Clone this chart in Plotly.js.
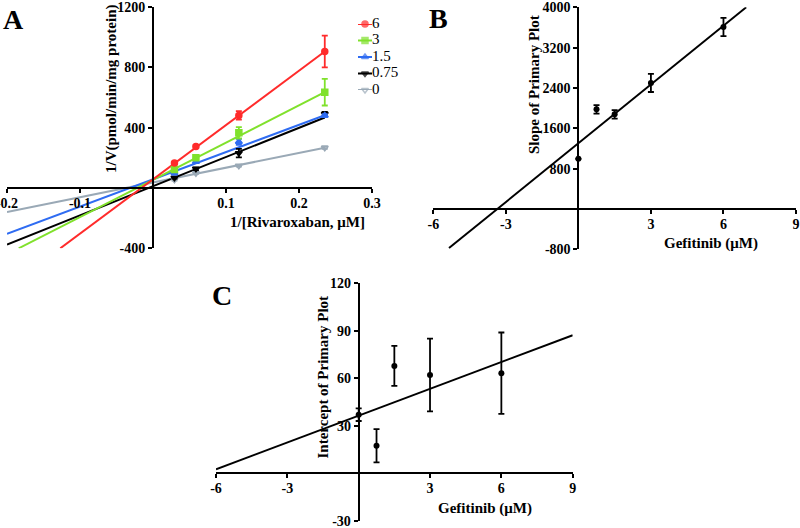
<!DOCTYPE html>
<html><head><meta charset="utf-8">
<script src="https://cdn.plot.ly/plotly-3.0.1.min.js"></script>
<style>html,body{margin:0;padding:0;background:#fff}</style>
</head><body><div id="chart" style="width:800px;height:528px"></div>
<script>
// ---------- DATA ----------
// Panel A: Lineweaver-Burk plot
const aX = [0.0294, 0.0588, 0.1176, 0.2353];
const aNames = ['6', '3', '1.5', '0.75', '0'];
const aY6 = [165, 275, 481, 905];
const aErr6 = [8, 10, 28, 105];
const aY3 = [123, 200, 366, 635];
const aErr3 = [8, 8, 38, 88];
const aY15 = [100, 174, 306, 480];
const aErr15 = [12, 8, 20, 10];
const aY075 = [68, 127, 231, 490];
const aErr075 = [6, 8, 28, 15];
const aY0 = [54, 98, 147, 267];
const aErr0 = [5, 5, 6, 8];
// fitted lines, end points
const aFitX6 = [-0.127, 0.2353];   const aFitY6 = [-400, 905];
const aFitX3 = [-0.184, 0.2353];   const aFitY3 = [-400, 635];
const aFitX15 = [-0.2, 0.2353];    const aFitY15 = [-304, 482];
const aFitX075 = [-0.2, 0.2353];   const aFitY075 = [-375, 467];
const aFitX0 = [-0.2, 0.2353];     const aFitY0 = [-160, 267];
const aXTicks = [-0.2, -0.1, 0.1, 0.2, 0.3];
const aXTickText = ['-0.2', '-0.1', '0.1', '0.2', '0.3'];
const aYTicks = [-400, 400, 800, 1200];
const aYTickText = ['-400', '400', '800', '1200'];

// Panel B: secondary plot of slopes
const bX = [0, 0.75, 1.5, 3, 6];
const bY = [995, 1976, 1877, 2500, 3610];
const bErr = [0, 83, 85, 180, 180];
const bFitX = [-5.35, 6.94];
const bFitY = [-776, 4000];
const bXTicks = [-6, -3, 3, 6, 9];
const bXTickText = ['-6', '-3', '3', '6', '9'];
const bYTicks = [-800, 800, 1600, 2400, 3200, 4000];
const bYTickText = ['-800', '800', '1600', '2400', '3200', '4000'];

// Panel C: secondary plot of intercepts
const cX = [0, 0.75, 1.5, 3, 6];
const cY = [37, 17.4, 67.8, 62.1, 63.2];
const cErr = [4, 10.5, 12.6, 23, 25.7];
const cFitX = [-6, 9];
const cFitY = [2.5, 87.2];
const cXTicks = [-6, -3, 3, 6, 9];
const cXTickText = ['-6', '-3', '3', '6', '9'];
const cYTicks = [-30, 30, 60, 90, 120];
const cYTickText = ['-30', '30', '60', '90', '120'];

// ---------- STYLE ----------
const W = 800, H = 528;
const px = v => v / W;
const py = v => 1 - v / H;
const serif = '"Liberation Serif", "Times New Roman", serif';
const tickFont = {family: serif, size: 14, color: '#000'};
const colors = ['#ff2b2b', '#80e12c', '#2f6cf2', '#000000', '#9aa9b6'];
const symbols = ['circle', 'square', 'triangle-up', 'triangle-down', 'triangle-down-open'];
const bold = arr => arr.map(t => '<b>' + t + '</b>');

function posOf(range, domain, v) {
  return domain[0] + (v - range[0]) / (range[1] - range[0]) * (domain[1] - domain[0]);
}
function baseAxis(domain, range, tickvals, ticktext) {
  return {domain, range, anchor: 'free', tickvals, ticktext: bold(ticktext),
    showline: true, linewidth: 2, linecolor: '#000',
    ticks: 'outside', ticklen: 4, tickwidth: 2, tickcolor: '#000',
    ticklabeloverflow: 'allow', automargin: false,
    showgrid: false, zeroline: false, tickfont: tickFont, fixedrange: true};
}
function axisX(domain, range, yDomain, yRange, tickvals, ticktext) {
  return Object.assign(baseAxis(domain, range, tickvals, ticktext),
    {position: posOf(yRange, yDomain, 0), ticklabelstandoff: -2});
}
function axisY(domain, range, xDomain, xRange, tickvals, ticktext) {
  return Object.assign(baseAxis(domain, range, tickvals, ticktext), {position: posOf(xRange, xDomain, 0)});
}

const aXD = [px(7), px(372)], aXR = [-0.2, 0.3];
const aYD = [py(248.3), py(7)], aYR = [-400, 1200];
const bXD = [px(433.3), px(796)], bXR = [-6, 9];
const bYD = [py(249.3), py(7.3)], bYR = [-800, 4000];
const cXD = [px(216), px(572.7)], cXR = [-6, 9];
const cYD = [py(520.7), py(283.3)], cYR = [-30, 120];

const aYs = [aY6, aY3, aY15, aY075, aY0];
const aErrs = [aErr6, aErr3, aErr15, aErr075, aErr0];
const aFitXs = [aFitX6, aFitX3, aFitX15, aFitX075, aFitX0];
const aFitYs = [aFitY6, aFitY3, aFitY15, aFitY075, aFitY0];

const traces = [];
for (let i = aNames.length - 1; i >= 0; i--) {
  traces.push({x: aFitXs[i], y: aFitYs[i], mode: 'lines', xaxis: 'x', yaxis: 'y',
    line: {color: colors[i], width: 2}, showlegend: false, hoverinfo: 'skip', cliponaxis: false});
}
for (let i = aNames.length - 1; i >= 0; i--) {
  traces.push({x: aX, y: aYs[i], mode: 'markers', xaxis: 'x', yaxis: 'y', name: aNames[i],
    marker: {color: colors[i], size: 6, symbol: symbols[i], line: {color: colors[i], width: 1.5}},
    error_y: {type: 'data', array: aErrs[i], visible: true, color: colors[i], thickness: 1.8, width: 3},
    showlegend: false, cliponaxis: false});
}
// legend for panel A (built from the series names and styles)
for (let i = 0; i < aNames.length; i++) {
  traces.push({x: [0, 0.5, 1], y: [i, i, i], mode: 'lines+markers+text', xaxis: 'x4', yaxis: 'y4',
    line: {color: colors[i], width: 2},
    marker: {color: colors[i], size: [0, 6, 0], symbol: symbols[i], line: {color: colors[i], width: 1.5}},
    text: ['', '', aNames[i]], textposition: 'middle right',
    textfont: {family: serif, size: 15, color: '#000'},
    showlegend: false, hoverinfo: 'skip', cliponaxis: false});
}
// panel B
traces.push({x: bFitX, y: bFitY, mode: 'lines', xaxis: 'x2', yaxis: 'y2',
  line: {color: '#000', width: 2}, showlegend: false, hoverinfo: 'skip', cliponaxis: false});
traces.push({x: bX, y: bY, mode: 'markers', xaxis: 'x2', yaxis: 'y2',
  marker: {color: '#000', size: 6, symbol: 'circle'},
  error_y: {type: 'data', array: bErr, visible: true, color: '#000', thickness: 1.8, width: 3},
  showlegend: false, cliponaxis: false});
// panel C
traces.push({x: cFitX, y: cFitY, mode: 'lines', xaxis: 'x3', yaxis: 'y3',
  line: {color: '#000', width: 2}, showlegend: false, hoverinfo: 'skip', cliponaxis: false});
traces.push({x: cX, y: cY, mode: 'markers', xaxis: 'x3', yaxis: 'y3',
  marker: {color: '#000', size: 6, symbol: 'circle'},
  error_y: {type: 'data', array: cErr, visible: true, color: '#000', thickness: 1.8, width: 3},
  showlegend: false, cliponaxis: false});

function ann(text, x, y, size, angle) {
  return {text: '<b>' + text + '</b>', x: px(x), y: py(y), xref: 'paper', yref: 'paper', showarrow: false,
    xanchor: 'center', yanchor: 'middle', textangle: angle || 0, borderpad: 0,
    font: {family: serif, size: size, color: '#000'}};
}

const layout = {
  width: W, height: H, margin: {l: 0, r: 0, t: 0, b: 0},
  paper_bgcolor: '#fff', plot_bgcolor: 'rgba(0,0,0,0)', showlegend: false,
  xaxis: axisX(aXD, aXR, aYD, aYR, aXTicks, aXTickText),
  yaxis: axisY(aYD, aYR, aXD, aXR, aYTicks, aYTickText),
  xaxis2: axisX(bXD, bXR, bYD, bYR, bXTicks, bXTickText),
  yaxis2: axisY(bYD, bYR, bXD, bXR, bYTicks, bYTickText),
  xaxis3: axisX(cXD, cXR, cYD, cYR, cXTicks, cXTickText),
  yaxis3: axisY(cYD, cYR, cXD, cXR, cYTicks, cYTickText),
  xaxis4: {domain: [px(358), px(372)], range: [0, 1], visible: false, anchor: 'y4', fixedrange: true},
  yaxis4: {domain: [py(90), py(24)], range: [4, 0], visible: false, anchor: 'x4', fixedrange: true},
  annotations: [
    ann('A', 13, 19, 28), ann('B', 439, 18.5, 28), ann('C', 222, 295, 28),
    ann('1/V(pmol/min/mg protein)', 111, 89, 15, -90),
    ann('1/[Rivaroxaban, μM]', 297, 222, 15),
    ann('Slope of Primary Plot', 534, 85, 15, -90),
    ann('Gefitinib (μM)', 711, 243, 15),
    ann('Intercept of Primary Plot', 322.5, 377, 15, -90),
    ann('Gefitinib (μM)', 485, 508, 15)
  ]
};

Plotly.newPlot('chart', traces, layout, {staticPlot: true, displayModeBar: false});
</script></body></html>
